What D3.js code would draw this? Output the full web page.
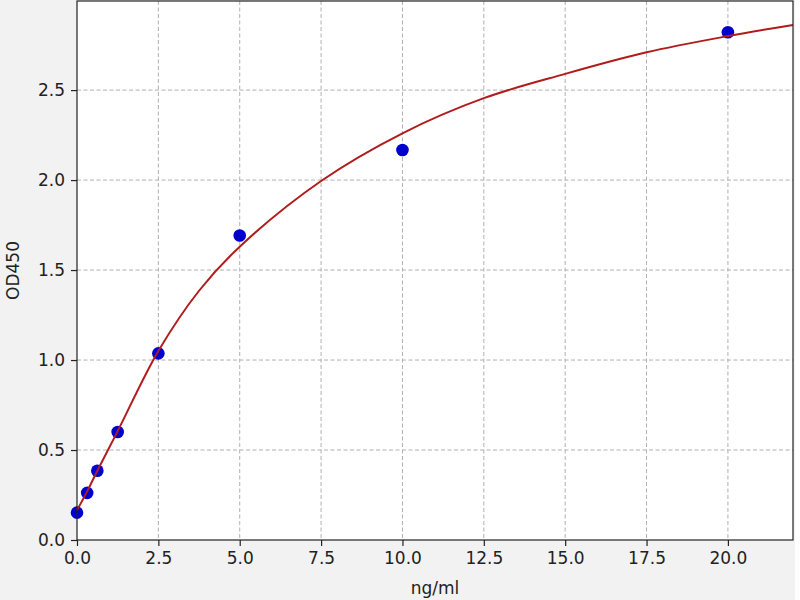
<!DOCTYPE html>
<html>
<head>
<meta charset="utf-8">
<script src="https://cdn.jsdelivr.net/npm/d3@7"></script>
<style>
  body { margin: 0; background: #ffffff; }
  svg { display: block; }
  text { font-family: "DejaVu Sans", sans-serif; fill: #222; }
</style>
</head>
<body>
<svg id="chart"></svg>
<script>
// standards measured
var concentrations = [0, 0.3125, 0.625, 1.25, 2.5, 5, 10, 20];
var odValues = [0.152, 0.262, 0.385, 0.600, 1.037, 1.692, 2.167, 2.821];

// fitted curve
var curveX = [0, 0.3125, 0.625, 1.25, 2.5, 3.75, 5, 7.5, 10, 12.5, 15, 17.5, 20, 22];
var curveY = [0.165, 0.27, 0.385, 0.605, 1.05, 1.385, 1.63, 1.995, 2.26, 2.455, 2.59, 2.71, 2.80, 2.862];

var xTicks = [0, 2.5, 5, 7.5, 10, 12.5, 15, 17.5, 20];
var yTicks = [0, 0.5, 1, 1.5, 2, 2.5];

var screen = {width:800, height:600}
var margins = {left:77, right:7, top:1, bottom:60}
var graph = {
    width: screen.width - margins.left - margins.right,
    height: screen.height - margins.top - margins.bottom
}

var svg = d3.select("#chart")
    .attr("width", screen.width)
    .attr("height", screen.height);

// figure background
svg.append("rect")
    .attr("width", 795).attr("height", screen.height)
    .attr("fill", "#f2f2f2");

var target = svg.append("g")
    .attr("transform", "translate(" + margins.left + "," + margins.top + ")");

var xScale = d3.scaleLinear().domain([0, 22]).range([0, graph.width]);
var yScale = d3.scaleLinear().domain([0, 2.995]).range([graph.height, 0]);

target.append("rect")
    .attr("width", graph.width).attr("height", graph.height)
    .attr("fill", "#ffffff");

// grid
target.append("g").selectAll("line")
    .data(xTicks.filter(function(d){ return d > 0; }))
    .enter().append("line")
    .attr("x1", function(d){ return xScale(d); })
    .attr("x2", function(d){ return xScale(d); })
    .attr("y1", 0).attr("y2", graph.height)
    .attr("stroke", "#b0b0b0").attr("stroke-width", 1)
    .attr("stroke-dasharray", "4,2.5");

target.append("g").selectAll("line")
    .data(yTicks.filter(function(d){ return d > 0; }))
    .enter().append("line")
    .attr("x1", 0).attr("x2", graph.width)
    .attr("y1", function(d){ return yScale(d); })
    .attr("y2", function(d){ return yScale(d); })
    .attr("stroke", "#b0b0b0").attr("stroke-width", 1)
    .attr("stroke-dasharray", "4,2.5");

// points
var pts = concentrations.map(function(c, i){ return {x:c, y:odValues[i]}; });
target.append("g").selectAll("circle")
    .data(pts)
    .enter().append("circle")
    .attr("cx", function(d){ return xScale(d.x); })
    .attr("cy", function(d){ return yScale(d.y); })
    .attr("r", 6.3)
    .attr("fill", "#0000cc");

// fit line
var fit = curveX.map(function(c, i){ return [c, curveY[i]]; });
var line = d3.line()
    .x(function(d){ return xScale(d[0]); })
    .y(function(d){ return yScale(d[1]); })
    .curve(d3.curveCatmullRom.alpha(0.5));

target.append("path")
    .datum(fit)
    .attr("d", line)
    .attr("fill", "none")
    .attr("stroke", "#b01c1c")
    .attr("stroke-width", 2);

// frame
target.append("rect")
    .attr("width", graph.width).attr("height", graph.height)
    .attr("fill", "none")
    .attr("stroke", "#222").attr("stroke-width", 1.2);

// axes
var xAxis = d3.axisBottom(xScale)
    .tickValues(xTicks)
    .tickFormat(d3.format(".1f"))
    .tickSizeInner(6).tickSizeOuter(0).tickPadding(6);
var yAxis = d3.axisLeft(yScale)
    .tickValues(yTicks)
    .tickFormat(d3.format(".1f"))
    .tickSizeInner(6).tickSizeOuter(0).tickPadding(6);

var gx = target.append("g")
    .attr("transform", "translate(0," + graph.height + ")")
    .call(xAxis);
var gy = target.append("g").call(yAxis);

[gx, gy].forEach(function(g){
    g.select(".domain").remove();
    g.selectAll("line").attr("stroke", "#222").attr("stroke-width", 1.2);
    g.selectAll("text")
        .attr("fill", "#222")
        .style("font-size", "17px")
        .style("font-family", "DejaVu Sans, sans-serif");
});

// labels
svg.append("text")
    .attr("x", margins.left + graph.width / 2)
    .attr("y", 594)
    .attr("text-anchor", "middle")
    .style("font-size", "17px")
    .text("ng/ml");

svg.append("text")
    .attr("transform", "translate(19," + (margins.top + graph.height / 2) + ") rotate(-90)")
    .attr("text-anchor", "middle")
    .style("font-size", "17px")
    .text("OD450");
</script>
</body>
</html>
